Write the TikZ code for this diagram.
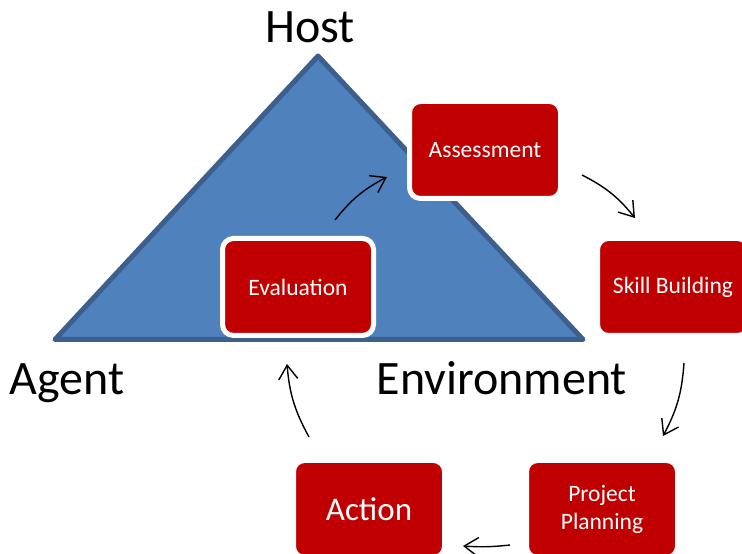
\documentclass[tikz,border=0pt]{standalone}
\usepackage{fontspec}
\setmainfont{Carlito}
\usetikzlibrary{arrows.meta}
\definecolor{triblue}{HTML}{4F81BD}
\definecolor{triedge}{HTML}{3C5F8E}
\definecolor{boxred}{HTML}{C00000}
\tikzset{
  stagebox/.style={draw=white, line width=5pt, fill=boxred, rounded corners=11pt,
    minimum width=151pt, minimum height=97pt, inner sep=0pt, text=white,
    align=center, font=\fontsize{23.5}{28}\selectfont},
  biglabel/.style={anchor=base, font=\fontsize{48}{54}\selectfont, text=black},
  cyclearrow/.style={line width=1.4pt, -{Straight Barb[length=14pt,width=19pt]}, bend left=12}
}
\begin{document}
\begin{tikzpicture}[x=1pt,y=1pt]
\useasboundingbox (0,0) rectangle (742,554);
\clip (0,0) rectangle (742,554);
% triangle
\draw[fill=triblue, draw=triedge, line width=5pt, line join=round] (55,214.5) -- (318,498) -- (583,214.5) -- cycle;
% labels
\node[biglabel] (host) at (310,511) {Host};
\node[biglabel] (agent) at (67,159) {Agent};
\node[biglabel] (env) at (502,159) {Environment};
% boxes
\node[stagebox] (assess) at (485,404) {Assessment};
\node[stagebox] (skill) at (673,267) {Skill Building};
\node[stagebox] (eval) at (298,267) {Evaluation};
\node[stagebox, font=\fontsize{33}{38}\selectfont] (action) at (369,45) {Action};
\node[stagebox] (proj) at (602,45) {Project\\Planning};
% arrow end points
\coordinate (a1s) at (335,334); \coordinate (a1e) at (387,377);
\coordinate (a2s) at (582,379); \coordinate (a2e) at (635,336);
\coordinate (a3s) at (684,191); \coordinate (a3e) at (663,118);
\coordinate (a4s) at (510,9);   \coordinate (a4e) at (463,8);
\coordinate (a5s) at (309,117); \coordinate (a5e) at (287,190);
\draw[cyclearrow] (a1s) to (a1e);
\draw[cyclearrow] (a2s) to (a2e);
\draw[cyclearrow] (a3s) to (a3e);
\draw[cyclearrow, bend left=5] (a4s) to (a4e);
\draw[cyclearrow] (a5s) to (a5e);
\end{tikzpicture}
\end{document}
